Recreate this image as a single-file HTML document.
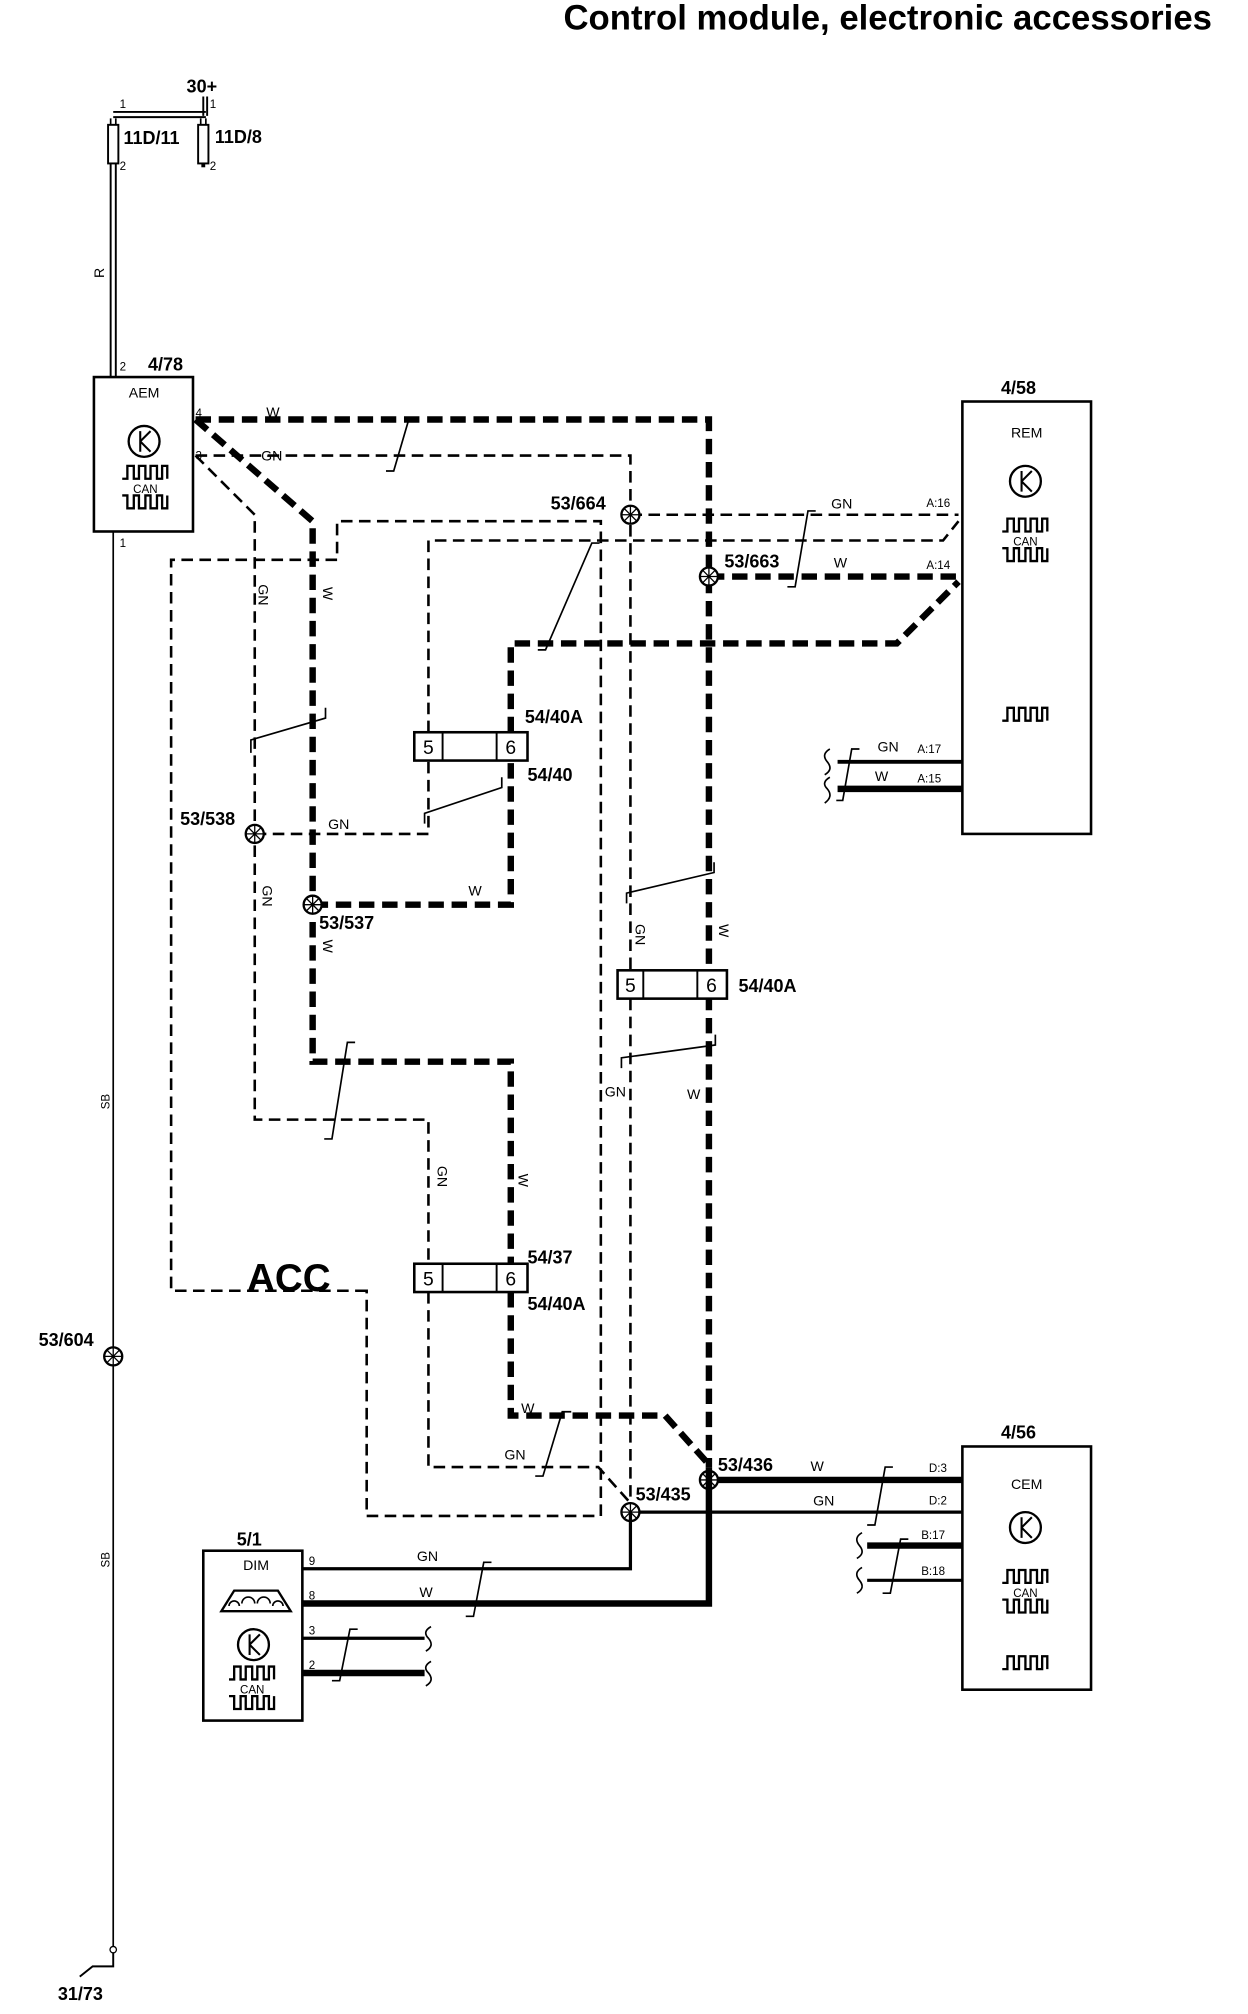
<!DOCTYPE html>
<html><head><meta charset="utf-8"><style>
html,body{margin:0;padding:0;background:#fff}
svg{display:block}
text{font-family:"Liberation Sans",Arial,sans-serif;fill:#000}
.b{font-weight:bold;font-size:15px}
.s{font-size:11px}
.p{font-size:9px}
.tk{fill:none;stroke:#000;stroke-width:5;stroke-dasharray:12 6}
.tn{fill:none;stroke:#000;stroke-width:2;stroke-dasharray:9 5}
.ln{fill:none;stroke:#000;stroke-width:1.3}
.box{fill:#fff;stroke:#000;stroke-width:2}
</style></head><body>
<svg width="1248" height="2014" viewBox="0 0 970 1565" preserveAspectRatio="none" xmlns="http://www.w3.org/2000/svg">
<defs>
<g id="sp"><circle r="7" fill="#fff" stroke="#000" stroke-width="1.8"/><path d="M-7,0H7M0,-7V7M-5,-5L5,5M-5,5L5,-5" stroke="#000" stroke-width="1"/></g>
<g id="tr"><circle r="12" fill="none" stroke="#000" stroke-width="1.8"/><path d="M-3,-8V8M-3,0L5,-8M-3,0L5,8" stroke="#000" stroke-width="1.6" fill="none"/></g>
<g id="sq"><path d="M-18,0H-14V-10H-9V0H-5V-10H0V0H4V-10H9V0H13V-10H17V0" stroke="#000" stroke-width="1.8" fill="none"/></g>
<g id="can"><use href="#sq" y="0"/><text x="0" y="11" text-anchor="middle" style="font-size:9px">CAN</text><path d="M-18,13H-14V23H-9V13H-5V23H0V13H4V23H9V13H13V23H17V13" stroke="#000" stroke-width="1.8" fill="none"/></g>
</defs>

<text x="942" y="23" text-anchor="end" style="font-weight:bold;font-size:27px">Control module, electronic accessories</text>

<!-- fuses -->
<text x="145" y="72" class="b" style="font-size:14px">30+</text>
<path d="M158,75V90M161,75V90" stroke="#000" stroke-width="1.5"/>
<path d="M88,87H160M88,91H160" stroke="#000" stroke-width="1.5"/>
<text x="93" y="84" class="p">1</text><text x="163" y="84" class="p">1</text>
<rect x="84" y="97" width="8" height="30" fill="none" stroke="#000" stroke-width="1.5"/>
<rect x="154" y="97" width="8" height="30" fill="none" stroke="#000" stroke-width="1.5"/>
<path d="M86,92V97M90,92V97M156,92V97M160,92V97" stroke="#000" stroke-width="1.3"/>
<text x="96" y="112" class="b" style="font-size:14px">11D/11</text>
<text x="167" y="111" class="b" style="font-size:14px">11D/8</text>
<text x="93" y="132" class="p">2</text><text x="163" y="132" class="p">2</text>
<path d="M158,127V130" stroke="#000" stroke-width="3"/>
<path d="M86,127V293M90,127V293" stroke="#000" stroke-width="1.5"/>
<text transform="translate(81,216) rotate(-90)" class="s">R</text>

<!-- AEM -->
<text x="93" y="288" class="p">2</text>
<text x="115" y="288" class="b" style="font-size:14px">4/78</text>
<rect x="73" y="293" width="77" height="120" class="box"/>
<text x="112" y="309" text-anchor="middle" class="s">AEM</text>
<use href="#tr" x="112" y="343"/>
<use href="#can" x="113" y="372"/>
<text x="152" y="324" class="p">4</text>
<text x="152" y="357" class="p">3</text>
<text x="93" y="425" class="p">1</text>

<!-- SB wire -->
<path d="M88,413V1515" stroke="#000" stroke-width="1.3"/>
<text transform="translate(85,862) rotate(-90)" class="p">SB</text>
<text transform="translate(85,1218) rotate(-90)" class="p">SB</text>
<use href="#sp" x="88" y="1054"/>
<text x="30" y="1046" class="b" style="font-size:14px">53/604</text>
<circle cx="88" cy="1515" r="2.5" fill="#fff" stroke="#000"/>
<path d="M88,1517V1528H72L62,1536" stroke="#000" stroke-width="1.5" fill="none"/>
<text x="45" y="1554" class="b" style="font-size:14px">31/73</text>

<!-- thick W dashed -->
<path class="tk" d="M152,326H551V1140"/>
<path class="tk" d="M152,326L243,405V825H397V982M397,1004V1100H517L551,1138"/>
<path class="tk" d="M243,703H397V591M397,569V500H697L745,452"/>
<path class="tk" d="M551,448H745"/>

<!-- thin GN dashed -->
<path class="tn" d="M152,354H490V754M490,776V1175"/>
<path class="tn" d="M152,354L198,400V870H333V982M333,1004V1140H465L490,1168"/>
<path class="tn" d="M490,400H745"/>
<path class="tn" d="M198,648H333V591M333,569V420H733L745,405"/>
<path class="tn" d="M285,1003H133V435H262V405H467V1178H285Z"/>

<!-- slashes -->
<path class="ln" d="M300,366H306L318,325H324"/>
<path class="ln" d="M195,585V575L253,558V550"/>
<path class="ln" d="M418,505H424L460,422H466"/>
<path class="ln" d="M330,640V632L390,612V604"/>
<path class="ln" d="M487,702V694L555,678V670"/>
<path class="ln" d="M483,830V822L556,812V804"/>
<path class="ln" d="M252,885H258L270,810H276"/>
<path class="ln" d="M416,1147H422L437,1097H444"/>
<path class="ln" d="M612,456H618L628,397H634"/>

<!-- splices -->
<use href="#sp" x="490" y="400"/><text x="428" y="396" class="b" style="font-size:14px">53/664</text>
<use href="#sp" x="551" y="448"/><text x="563" y="441" class="b" style="font-size:14px">53/663</text>
<use href="#sp" x="198" y="648"/><text x="140" y="641" class="b" style="font-size:14px">53/538</text>
<use href="#sp" x="243" y="703"/><text x="248" y="722" class="b" style="font-size:14px">53/537</text>

<!-- relays -->
<g>
<rect x="322" y="569" width="88" height="22" class="box"/>
<path d="M344,569V591M386,569V591" stroke="#000" stroke-width="1.5"/>
<text x="333" y="586" text-anchor="middle" style="font-size:15px">5</text>
<text x="397" y="586" text-anchor="middle" style="font-size:15px">6</text>
</g>
<text x="408" y="562" class="b" style="font-size:14px">54/40A</text>
<text x="410" y="607" class="b" style="font-size:14px">54/40</text>
<g>
<rect x="480" y="754" width="85" height="22" class="box"/>
<path d="M500,754V776M542,754V776" stroke="#000" stroke-width="1.5"/>
<text x="490" y="771" text-anchor="middle" style="font-size:15px">5</text>
<text x="553" y="771" text-anchor="middle" style="font-size:15px">6</text>
</g>
<text x="574" y="771" class="b" style="font-size:14px">54/40A</text>
<g>
<rect x="322" y="982" width="88" height="22" class="box"/>
<path d="M344,982V1004M386,982V1004" stroke="#000" stroke-width="1.5"/>
<text x="333" y="999" text-anchor="middle" style="font-size:15px">5</text>
<text x="397" y="999" text-anchor="middle" style="font-size:15px">6</text>
</g>
<text x="410" y="982" class="b" style="font-size:14px">54/37</text>
<text x="410" y="1018" class="b" style="font-size:14px">54/40A</text>
<text x="192" y="1003" style="font-weight:bold;font-size:30px">ACC</text>

<!-- wire labels -->
<text x="207" y="324" class="s">W</text>
<text x="203" y="358" class="s">GN</text>
<text transform="translate(201,454) rotate(90)" class="s">GN</text>
<text transform="translate(251,456) rotate(90)" class="s">W</text>
<text x="255" y="644" class="s">GN</text>
<text x="364" y="696" class="s">W</text>
<text transform="translate(204,688) rotate(90)" class="s">GN</text>
<text transform="translate(251,730) rotate(90)" class="s">W</text>
<text transform="translate(494,718) rotate(90)" class="s">GN</text>
<text transform="translate(559,718) rotate(90)" class="s">W</text>
<text x="470" y="852" class="s">GN</text>
<text x="534" y="854" class="s">W</text>
<text transform="translate(340,906) rotate(90)" class="s">GN</text>
<text transform="translate(403,912) rotate(90)" class="s">W</text>
<text x="405" y="1098" class="s">W</text>
<text x="392" y="1134" class="s">GN</text>
<text x="646" y="395" class="s">GN</text>
<text x="648" y="441" class="s">W</text>

<!-- REM -->
<text x="778" y="306" class="b" style="font-size:14px">4/58</text>
<rect x="748" y="312" width="100" height="336" class="box"/>
<text x="798" y="340" text-anchor="middle" class="s">REM</text>
<use href="#tr" x="797" y="374"/>
<use href="#can" x="797" y="413"/>
<use href="#sq" x="797" y="560"/>
<text x="720" y="394" class="p">A:16</text>
<text x="720" y="442" class="p">A:14</text>
<text x="713" y="585" class="p">A:17</text>
<text x="713" y="608" class="p">A:15</text>
<path d="M651,592H748" stroke="#000" stroke-width="3"/>
<path d="M651,613H748" stroke="#000" stroke-width="5"/>
<path class="ln" d="M645,582Q638,586 643,592Q648,598 641,602M645,604Q638,608 643,613Q648,619 641,624"/>
<path class="ln" d="M650,622H655L662,582H668"/>
<text x="682" y="584" class="s">GN</text>
<text x="680" y="607" class="s">W</text>

<!-- CEM -->
<text x="778" y="1118" class="b" style="font-size:14px">4/56</text>
<rect x="748" y="1124" width="100" height="189" class="box"/>
<text x="798" y="1157" text-anchor="middle" class="s">CEM</text>
<use href="#tr" x="797" y="1187"/>
<use href="#can" x="797" y="1230"/>
<use href="#sq" x="797" y="1297"/>
<text x="722" y="1144" class="p">D:3</text>
<text x="722" y="1169" class="p">D:2</text>
<text x="716" y="1196" class="p">B:17</text>
<text x="716" y="1224" class="p">B:18</text>
<path d="M551,1150H748" stroke="#000" stroke-width="5"/>
<path d="M490,1175H748" stroke="#000" stroke-width="2.5"/>
<path d="M674,1201H748" stroke="#000" stroke-width="5"/>
<path d="M674,1228H748" stroke="#000" stroke-width="2.5"/>
<path class="ln" d="M670,1191Q663,1195 668,1201Q673,1207 666,1211M670,1218Q663,1222 668,1228Q673,1234 666,1238"/>
<path class="ln" d="M674,1185H680L688,1140H694"/>
<path class="ln" d="M686,1238H692L700,1196H706"/>
<text x="630" y="1143" class="s">W</text>
<text x="632" y="1170" class="s">GN</text>
<use href="#sp" x="551" y="1150"/><text x="558" y="1143" class="b" style="font-size:14px">53/436</text>
<use href="#sp" x="490" y="1175"/><text x="494" y="1166" class="b" style="font-size:14px">53/435</text>

<!-- DIM -->
<text x="184" y="1201" class="b" style="font-size:14px">5/1</text>
<rect x="158" y="1205" width="77" height="132" class="box"/>
<text x="199" y="1220" text-anchor="middle" class="s">DIM</text>
<path d="M172,1252L182,1236H216L226,1252Z" fill="none" stroke="#000" stroke-width="1.8"/>
<path d="M178,1248a4,4 0 0 1 8,0M188,1246a5,5 0 0 1 10,0M200,1246a5,5 0 0 1 10,0M212,1248a4,4 0 0 1 8,0" fill="none" stroke="#000" stroke-width="1.3"/>
<use href="#tr" x="197" y="1278"/>
<use href="#can" x="196" y="1305"/>
<text x="240" y="1216" class="p">9</text>
<text x="240" y="1243" class="p">8</text>
<text x="240" y="1270" class="p">3</text>
<text x="240" y="1297" class="p">2</text>
<path d="M235,1219H490V1175" stroke="#000" stroke-width="2.5" fill="none"/>
<path d="M235,1246H551V1140" stroke="#000" stroke-width="5" fill="none"/>
<path d="M235,1273H330" stroke="#000" stroke-width="2.5"/>
<path d="M235,1300H330" stroke="#000" stroke-width="5"/>
<path class="ln" d="M335,1264Q328,1268 333,1273Q338,1279 331,1283M335,1291Q328,1295 333,1300Q338,1306 331,1310"/>
<path class="ln" d="M362,1256H368L376,1214H382"/>
<path class="ln" d="M258,1306H264L272,1266H278"/>
<text x="324" y="1213" class="s">GN</text>
<text x="326" y="1241" class="s">W</text>
</svg>
</body></html>
